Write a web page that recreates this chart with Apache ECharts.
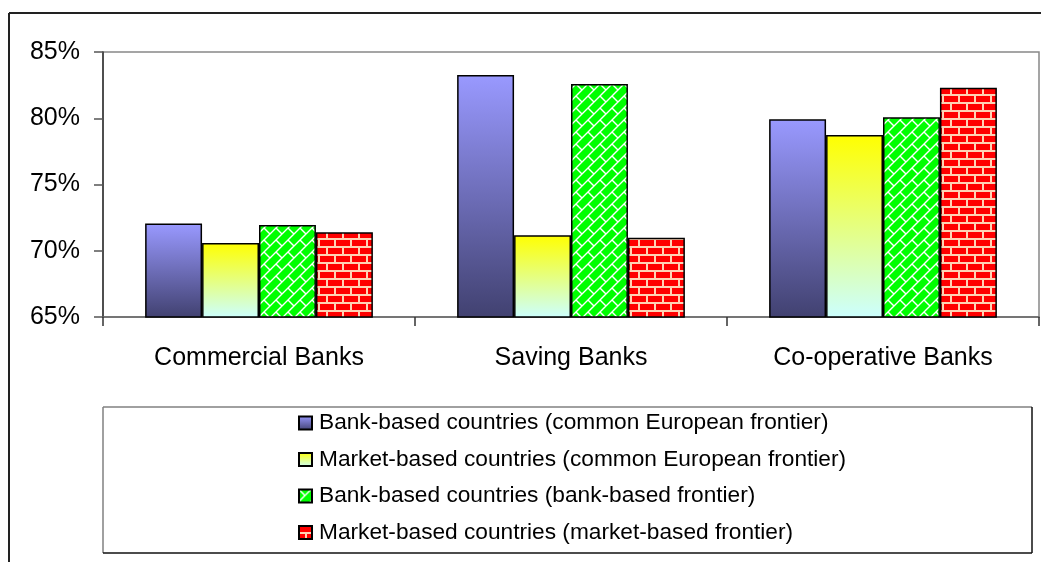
<!DOCTYPE html>
<html>
<head>
<meta charset="utf-8">
<script src="https://cdn.jsdelivr.net/npm/echarts@6/dist/echarts.min.js"></script>
<style>
html,body{margin:0;padding:0;background:#fff;}
#chart{width:1041px;height:562px;}
</style>
</head>
<body>
<div id="chart"></div>
<script>
const categories = ['Commercial Banks', 'Saving Banks', 'Co-operative Banks'];
const seriesNames = [
  'Bank-based countries (common European frontier)',
  'Market-based countries (common European frontier)',
  'Bank-based countries (bank-based frontier)',
  'Market-based countries (market-based frontier)'
];
const bankCommon = [72.05, 83.26, 79.92];
const marketCommon = [70.58, 71.17, 78.74];
const bankBank = [71.94, 82.58, 80.07];
const marketMarket = [71.39, 70.99, 82.31];
const yTicks = { min: 65, max: 85, interval: 5 };

function diagBrick() {
  const s = 12;
  const c = document.createElement('canvas');
  c.width = s; c.height = s;
  const g = c.getContext('2d');
  g.fillStyle = '#00FF00';
  g.fillRect(0, 0, s, s);
  g.strokeStyle = '#ffffff';
  g.lineWidth = 1.4;
  g.beginPath();
  g.moveTo(-1, s + 1); g.lineTo(s + 1, -1);
  g.moveTo(-1, 1); g.lineTo(1, -1);
  g.moveTo(s - 1, s + 1); g.lineTo(s + 1, s - 1);
  g.moveTo(0, 0); g.lineTo(6, 6);
  g.stroke();
  return c;
}
function hBrick() {
  const w = 16, h = 16;
  const c = document.createElement('canvas');
  c.width = w; c.height = h;
  const g = c.getContext('2d');
  g.fillStyle = '#FFD2B4';
  g.fillRect(0, 0, w, h);
  g.fillStyle = '#FF0000';
  g.fillRect(0, 0, w - 2, 6);
  g.fillRect(0, 8, 6, 6);
  g.fillRect(8, 8, w - 8, 6);
  return c;
}

const chart = echarts.init(document.getElementById('chart'), null, { renderer: 'canvas' });
const border = { borderColor: '#000', borderWidth: 1.5 };
const styles = [
  Object.assign({ color: new echarts.graphic.LinearGradient(0, 0, 0, 1, [
    { offset: 0, color: '#9999FF' }, { offset: 1, color: '#414170' }]) }, border),
  Object.assign({ color: new echarts.graphic.LinearGradient(0, 0, 0, 1, [
    { offset: 0, color: '#FFFF00' }, { offset: 1, color: '#CCFFFF' }]) }, border),
  Object.assign({ color: { image: diagBrick(), repeat: 'repeat' } }, border),
  Object.assign({ color: { image: hBrick(), repeat: 'repeat' } }, border)
];
const dataSets = [bankCommon, marketCommon, bankBank, marketMarket];

const font = 'Liberation Sans, Arial, sans-serif';
chart.setOption({
  animation: false,
  backgroundColor: '#fff',
  textStyle: { fontFamily: font },
  grid: { left: 103, right: 2, top: 52, bottom: 245, show: true, borderColor: '#888', borderWidth: 1.5, containLabel: false },
  xAxis: {
    type: 'category',
    data: categories,
    axisLine: { lineStyle: { color: '#666', width: 1.5 } },
    axisTick: { show: true, length: 9, lineStyle: { color: '#333', width: 1.5 } },
    axisLabel: { color: '#000', fontSize: 25, margin: 29, fontFamily: font }
  },
  yAxis: {
    type: 'value',
    min: yTicks.min, max: yTicks.max, interval: yTicks.interval,
    splitLine: { show: false },
    axisLine: { show: true, lineStyle: { color: '#333', width: 1.5 } },
    axisTick: { show: true, length: 9, lineStyle: { color: '#555', width: 1.5 } },
    axisLabel: { color: '#000', fontSize: 25, margin: 23, formatter: '{value}%', fontFamily: font }
  },
  legend: {
    orient: 'vertical',
    left: 298,
    top: 411,
    padding: 0,
    itemWidth: 13,
    itemHeight: 13,
    itemGap: 12.5,
    icon: 'rect',
    textStyle: { color: '#000', fontSize: 22.7, lineHeight: 24, fontFamily: font, padding: [0, 0, 0, 2] },
    data: seriesNames
  },
  graphic: [
    { type: 'line', shape: { x1: 9, y1: 13, x2: 1041, y2: 13 }, style: { stroke: '#222', lineWidth: 2 }, z: 100 },
    { type: 'line', shape: { x1: 9, y1: 13, x2: 9, y2: 562 }, style: { stroke: '#222', lineWidth: 2 }, z: 100 },
    { type: 'line', shape: { x1: 103, y1: 407, x2: 1032, y2: 407 }, style: { stroke: '#808080', lineWidth: 1.5 }, z: 100 },
    { type: 'line', shape: { x1: 103, y1: 407, x2: 103, y2: 553 }, style: { stroke: '#808080', lineWidth: 1.5 }, z: 100 },
    { type: 'line', shape: { x1: 103, y1: 553, x2: 1032, y2: 553 }, style: { stroke: '#111', lineWidth: 1.5 }, z: 100 },
    { type: 'line', shape: { x1: 1032, y1: 407, x2: 1032, y2: 553 }, style: { stroke: '#111', lineWidth: 1.5 }, z: 100 }
  ],
  series: seriesNames.map((name, i) => ({
    name: name,
    type: 'bar',
    data: dataSets[i],
    barGap: '0%',
    barCategoryGap: '27%',
    itemStyle: styles[i]
  }))
});
</script>
</body>
</html>
